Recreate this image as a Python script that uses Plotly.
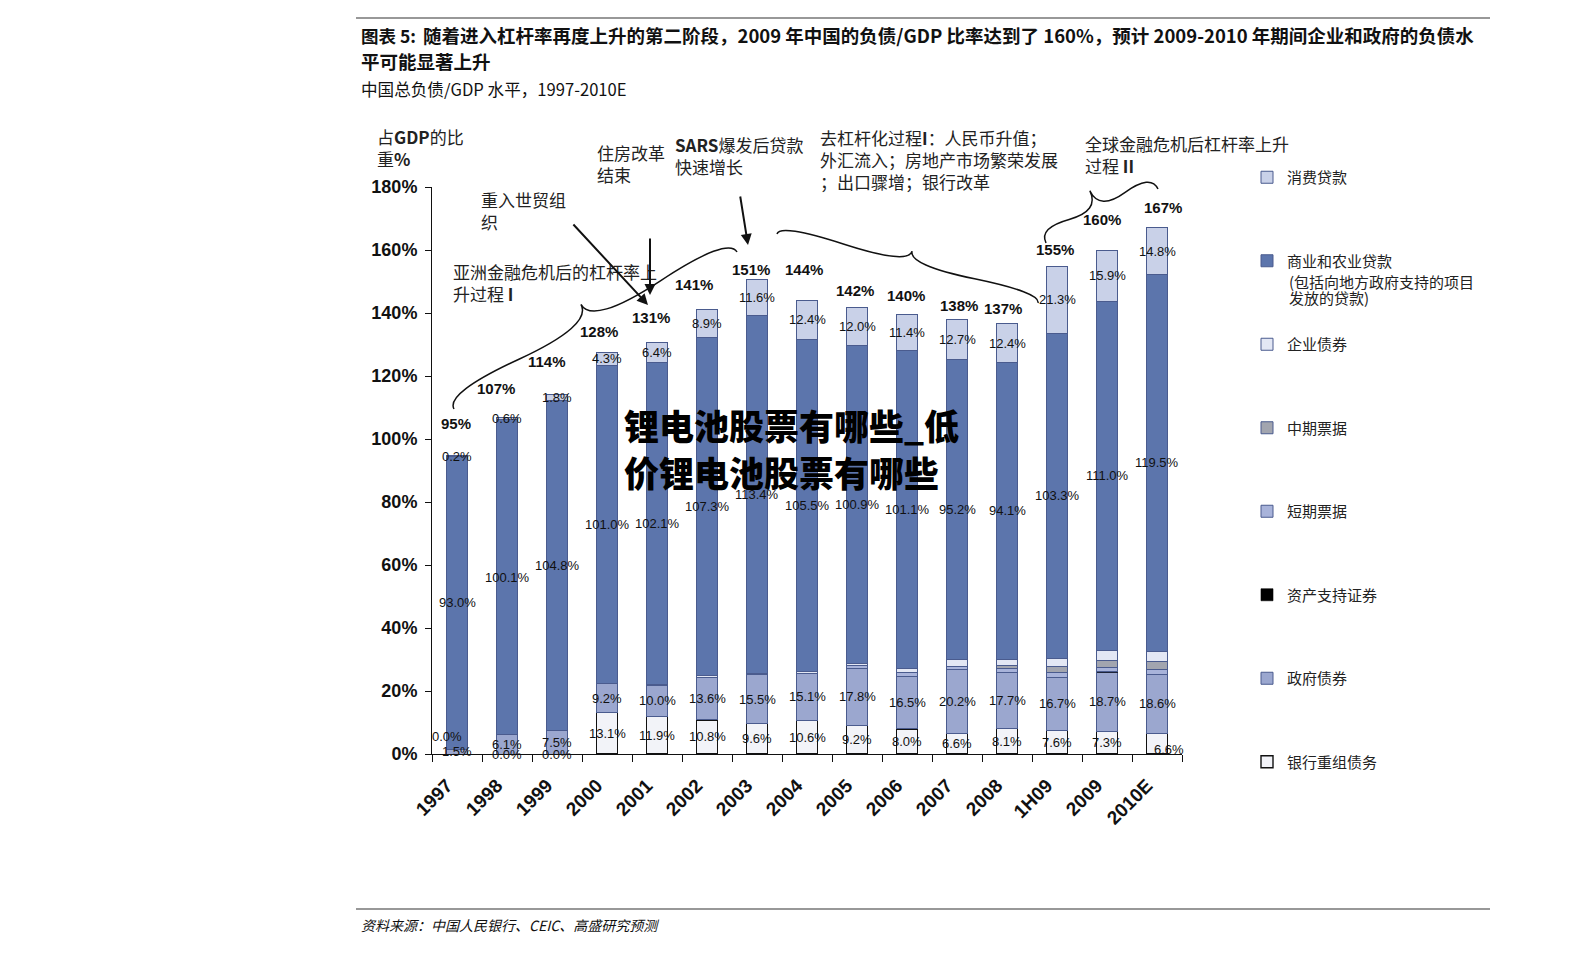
import math
import plotly.graph_objects as go

# ---------------- data ----------------
categories = ["1997", "1998", "1999", "2000", "2001", "2002", "2003", "2004",
              "2005", "2006", "2007", "2008", "1H09", "2009", "2010E"]
bank_restructuring = [0.0, 0.0, 0.0, 13.1, 11.9, 10.8, 9.6, 10.6, 9.2, 8.0, 6.6, 8.1, 7.6, 7.3, 6.6]
government_bonds = [1.5, 6.1, 7.5, 9.2, 10.0, 13.6, 15.5, 15.1, 17.8, 16.5, 20.2, 17.7, 16.7, 18.7, 18.6]
asset_backed = [0, 0, 0, 0, 0, 0, 0, 0, 0, 0.1, 0.1, 0.1, 0.1, 0.1, 0.1]
short_notes = [0, 0, 0, 0, 0, 0, 0, 0, 1.0, 1.2, 1.0, 1.2, 1.4, 1.3, 1.4]
medium_notes = [0, 0, 0, 0, 0, 0, 0, 0, 0, 0, 0, 0.9, 2.0, 2.2, 2.8]
corporate_bonds = [0, 0, 0, 0, 0.3, 0.4, 0.6, 0.4, 0.7, 1.3, 2.0, 2.1, 2.5, 3.2, 3.2]
commercial_loans = [93.0, 100.1, 104.8, 101.0, 102.1, 107.3, 113.4, 105.5, 100.9, 101.1, 95.2, 94.1, 103.3, 111.0, 119.5]
consumer_loans = [0.2, 0.6, 1.8, 4.3, 6.4, 8.9, 11.6, 12.4, 12.0, 11.4, 12.7, 12.4, 21.3, 15.9, 14.8]
total_labels = ["95%", "107%", "114%", "128%", "131%", "141%", "151%", "144%",
                "142%", "140%", "138%", "137%", "155%", "160%", "167%"]
y_tick_values = [0, 20, 40, 60, 80, 100, 120, 140, 160, 180]
y_tick_text = ["0%", "20%", "40%", "60%", "80%", "100%", "120%", "140%", "160%", "180%"]

# ---------------- layout geometry (page pixels) ----------------
OFF = 8                      # default page margin around the plot div
W, H = 1584 - 2 * OFF, 954 - 2 * OFF
PL, PR, PT, PB = 432, 1182, 187, 754   # plot area in page pixels

def px(x):
    return (x - PL) / (PR - PL)

def py(y):
    return (PB - y) / (PB - PT)

LAT = "Liberation Sans, Arial, Noto Sans CJK SC, sans-serif"
CJK = "Noto Sans CJK SC, Liberation Sans, sans-serif"
DARK_EDGE = "#4A5B8E"

series = [
    ("银行重组债务", bank_restructuring, "#F2F3F8", "#111111", 1.4),
    ("政府债券", government_bonds, "#9BA7CF", DARK_EDGE, 1),
    ("资产支持证券", asset_backed, "#000000", "#000000", 0.6),
    ("短期票据", short_notes, "#A8B3DA", DARK_EDGE, 1),
    ("中期票据", medium_notes, "#A2A5AF", DARK_EDGE, 1),
    ("企业债券", corporate_bonds, "#E3E7F4", DARK_EDGE, 1),
    ("商业和农业贷款", commercial_loans, "#5C75AC", DARK_EDGE, 1),
    ("消费贷款", consumer_loans, "#C9D1E8", DARK_EDGE, 1),
]

fig = go.Figure()
for k, (name, vals, color, edge, lw) in enumerate(series):
    fig.add_trace(go.Bar(
        x=categories, y=vals, name=name, legendgroup=name,
        legendrank=100 - k,
        marker=dict(color=color, line=dict(color=edge, width=lw)),
        hoverinfo="x+y+name",
    ))

annotations = []

# ---- segment value labels (centered on segments) ----
n = len(categories)
cum = [0.0] * n
label_series = {"银行重组债务", "政府债券", "商业和农业贷款", "消费贷款"}
special_shift = {("银行重组债务", 0): (-10, 18), ("银行重组债务", 14): (12, -6)}
for name, vals, _, _, _ in series:
    for i in range(n):
        if name in label_series:
            xs, ys = special_shift.get((name, i), (0, 0))
            annotations.append(dict(
                x=i, y=cum[i] + vals[i] / 2, xref="x", yref="y",
                text=f"{vals[i]:.1f}%", showarrow=False,
                xanchor="center", yanchor="middle", xshift=xs, yshift=ys,
                font=dict(family=LAT, size=13, color="#111111")))
        cum[i] += vals[i]

# ---- totals above bars ----
total_dx = [-1, -11, -10, -8, -6, -13, -6, -3, -2, -1, 2, -4, -2, -5, 6]
total_dy = [32, 29, 33, 21, 25, 25, 10, 31, 17, 19, 14, 15, 17, 31, 20]
for i in range(n):
    annotations.append(dict(
        x=i, y=cum[i], xref="x", yref="y", text=f"<b>{total_labels[i]}</b>",
        showarrow=False, xanchor="center", yanchor="middle",
        xshift=total_dx[i], yshift=total_dy[i],
        font=dict(family=LAT, size=15, color="#111111")))

def text_at(x, y, text, size, family=CJK, color="#222222", **kw):
    d = dict(x=px(x), y=py(y), xref="paper", yref="paper", text=text, showarrow=False,
             xanchor="left", yanchor="middle", align="left",
             font=dict(family=family, size=size, color=color))
    d["font"].update(kw.pop("font_extra", {}))
    d.update(kw)
    annotations.append(d)

# ---- titles ----
text_at(359, 35, "<b>图表 5:</b>", 17.5, color="#111111")
text_at(421, 35, "<b>随着进入杠杆率再度上升的第二阶段，2009 年中国的负债/GDP 比率达到了 160%，预计 2009-2010 年期间企业和政府的负债水</b>", 18.5, color="#111111")
text_at(359, 61, "<b>平可能显著上升</b>", 18.5, color="#111111")
text_at(359, 89, "中国总负债/GDP 水平，1997-2010E", 16.6, color="#111111")
text_at(359, 925, "资料来源：中国人民银行、CEIC、高盛研究预测", 14, color="#111111",
        font_extra=dict(style="italic"))

# ---- axis title + event notes ----
text_at(375, 147, "占<b>GDP</b>的比<br>重<b>%</b>", 17)
text_at(595, 163, "住房改革<br>结束", 17)
text_at(673, 155, "<b>SARS</b>爆发后贷款<br>快速增长", 17)
text_at(479, 210, "重入世贸组<br>织", 17)
text_at(451, 282, "亚洲金融危机后的杠杆率上<br>升过程 <b>I</b>", 17)
text_at(818, 159, "去杠杆化过程<b>I</b>：人民币升值；<br>外汇流入；房地产市场繁荣发展<br>；出口骤增；银行改革", 17)
text_at(1083, 154, "全球金融危机后杠杆率上升<br>过程 <b>II</b>", 17)

# ---- watermark text ----
text_at(622, 424, "锂电池股票有哪些_低", 35, color="#000000", font_extra=dict(weight=900))
text_at(622, 471, "价锂电池股票有哪些", 35, color="#000000", font_extra=dict(weight=900))

# ---- legend continuation lines ----
LEG_TEXT_X = 1288
text_at(LEG_TEXT_X - 1, 281, "(包括向地方政府支持的项目", 15)
text_at(LEG_TEXT_X - 1, 297, "发放的贷款)", 15)

# ---- arrows ----
def arrow(x0, y0, x1, y1):
    annotations.append(dict(
        x=px(x1), y=py(y1), xref="paper", yref="paper", text="",
        showarrow=True, ax=x0 - x1, ay=y0 - y1, axref="pixel", ayref="pixel",
        arrowhead=2, arrowsize=1.1, arrowwidth=2, arrowcolor="#111111"))

arrow(572, 223, 648, 305)
arrow(650, 237, 650, 295)
arrow(740, 195, 748, 245)

# ---- curly braces ----
def brace(x1, y1, x2, y2, w, q=0.6):
    dx, dy = x1 - x2, y1 - y2
    L = math.hypot(dx, dy)
    dx, dy = dx / L, dy / L
    qx1, qy1 = x1 + q * w * dy, y1 - q * w * dx
    qx2, qy2 = (x1 - .25 * L * dx) + (1 - q) * w * dy, (y1 - .25 * L * dy) - (1 - q) * w * dx
    tx1, ty1 = (x1 - .5 * L * dx) + w * dy, (y1 - .5 * L * dy) - w * dx
    qx3, qy3 = x2 + q * w * dy, y2 - q * w * dx
    qx4, qy4 = (x1 - .75 * L * dx) + (1 - q) * w * dy, (y1 - .75 * L * dy) - (1 - q) * w * dx
    P = lambda a, b: f"{px(a):.5f},{py(b):.5f}"
    return (f"M {P(x1, y1)} Q {P(qx1, qy1)} {P(qx2, qy2)} T {P(tx1, ty1)} "
            f"M {P(x2, y2)} Q {P(qx3, qy3)} {P(qx4, qy4)} T {P(tx1, ty1)}")

shapes = []
for b in [brace(454, 409, 737, 252, -30), brace(777, 234, 1038, 303, -18),
          brace(1046, 243, 1158, 189, -28)]:
    shapes.append(dict(type="path", path=b, xref="paper", yref="paper",
                       line=dict(color="#111111", width=1.5), layer="above"))

# ---- horizontal rules ----
for yy in (18, 909):
    shapes.append(dict(type="line", xref="paper", yref="paper",
                       x0=px(356), x1=px(1490), y0=py(yy), y1=py(yy),
                       line=dict(color="#333333", width=1.2)))

fig.update_layout(
    width=W, height=H,
    margin=dict(l=PL - OFF, r=W - (PR - OFF), t=PT - OFF, b=H - (PB - OFF), pad=0),
    paper_bgcolor="white", plot_bgcolor="white",
    barmode="stack", bargap=0.58,
    font=dict(family=LAT, color="#111111"),
    showlegend=True,
    legend=dict(x=px(LEG_TEXT_X - 41), y=py(161), xanchor="left", yanchor="top",
                xref="paper", yref="paper", maxheight=900,
                traceorder="grouped", tracegroupgap=61,
                font=dict(family=CJK, size=15, color="#222222"),
                bgcolor="rgba(0,0,0,0)", borderwidth=0),
    xaxis=dict(type="category", range=[-0.5, 14.5], showline=True, linecolor="#111111",
               linewidth=1, ticks="outside", tickson="boundaries", ticklen=7,
               tickcolor="#111111", tickangle=-45, showgrid=False,
               ticklabelstandoff=12, ticklabelshift=-10,
               tickfont=dict(family=LAT, size=19, color="#111111", weight="bold")),
    yaxis=dict(range=[0, 180], tickvals=y_tick_values, ticktext=y_tick_text,
               showline=True, linecolor="#111111", linewidth=1, ticks="outside",
               ticklen=6, tickcolor="#111111", showgrid=False, zeroline=False,
               ticklabelstandoff=4,
               tickfont=dict(family=LAT, size=18, color="#111111", weight="bold")),
    annotations=annotations,
    shapes=shapes,
)

fig.write_html("out.html")
